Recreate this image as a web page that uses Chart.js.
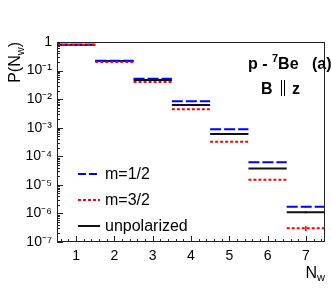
<!DOCTYPE html>
<html><head><meta charset="utf-8">
<script src="https://cdn.jsdelivr.net/npm/chart.js@4"></script>
<style>html,body{margin:0;padding:0;background:#fff;overflow:hidden}#wrap{width:332px;height:295px;position:relative}canvas{display:block}</style>
</head><body><div id="wrap"><canvas id="c" width="332" height="295" style="width:332px;height:295px"></canvas></div>
<script>
const categories = [1, 2, 3, 4, 5, 6, 7];
const m12 = [0.80, 0.22, 0.052, 0.0085, 8.8e-4, 6.2e-5, 1.7e-6];
const m32 = [0.79, 0.20, 0.040, 0.0044, 3.2e-4, 1.5e-5, 3.0e-7];
const unpol = [0.80, 0.215, 0.047, 0.0063, 6.0e-4, 3.7e-5, 1.1e-6];
const m12err = [0, 0, 0, 0, 0, 0, 0.12e-6];
const m32err = [0, 0, 0, 0, 0, 0, 0.6e-7];
const unpolerr = [0, 0, 0, 0, 0, 0, 0.1e-6];
const yTickValues = [1e-7, 1e-6, 1e-5, 1e-4, 1e-3, 1e-2, 1e-1, 1];
const yTickLabels = ['10⁻⁷', '10⁻⁶', '10⁻⁵', '10⁻⁴', '10⁻³', '10⁻²', '10⁻¹', '1'];
const xTickLabels = ['1', '2', '3', '4', '5', '6', '7'];
const legendLabels = ['m=1/2', 'm=3/2', 'unpolarized'];

const FONT = '"Liberation Sans", Arial, Helvetica, sans-serif';
const BLUE = '#0000ff', RED = '#ff0000', BLACK = '#111111';

function steps(vals) {
  const out = [];
  categories.forEach((c, i) => {
    out.push({x: c - 0.5, y: vals[i]});
    out.push({x: c + 0.5, y: vals[i]});
    out.push({x: c + 0.5, y: null});
  });
  return out;
}
function errs(vals, e) {
  const out = [];
  categories.forEach((c, i) => {
    if (e[i] > 0) {
      out.push({x: c, y: vals[i] - e[i]});
      out.push({x: c, y: vals[i] + e[i]});
      out.push({x: c, y: null});
    }
  });
  return out;
}
function lineDS(data, color, dash, width, order) {
  return {data, borderColor: color, borderWidth: width, borderDash: dash, pointRadius: 0,
    fill: false, spanGaps: false, tension: 0, order, borderCapStyle: 'butt'};
}

const decor = {
  id: 'decor',
  afterDatasetsDraw(chart) {
    const ctx = chart.ctx, a = chart.chartArea;
    const xs = chart.scales.x, ys = chart.scales.y;
    ctx.save();
    ctx.strokeStyle = '#222'; ctx.lineWidth = 1; ctx.setLineDash([]);
    ctx.strokeRect(Math.round(a.left) + 0.5, Math.round(a.top) + 0.5,
      Math.round(a.right - a.left) - 1, Math.round(a.bottom - a.top) - 1);
    ctx.beginPath();
    for (let e = -7; e <= 0; e++) {
      for (let k = 1; k <= 9; k++) {
        const v = k * Math.pow(10, e);
        if (v > 1.0001) break;
        const py = Math.round(ys.getPixelForValue(v)) + 0.5;
        const len = k === 1 ? 6 : 3;
        ctx.moveTo(a.left, py); ctx.lineTo(a.left + len, py);
      }
    }
    for (let t = 0.6; t < 7.5; t += 0.2) {
      const tv = Math.round(t * 10) / 10;
      const px = Math.round(xs.getPixelForValue(tv)) + 0.5;
      const major = Math.abs(tv - Math.round(tv)) < 1e-6;
      const len = major ? 6 : 3;
      ctx.moveTo(px, a.bottom); ctx.lineTo(px, a.bottom - len);
    }
    ctx.stroke();

    ctx.fillStyle = '#000';
    ctx.save();
    ctx.translate(20, a.top);
    ctx.rotate(-Math.PI / 2);
    ctx.textBaseline = 'alphabetic';
    ctx.font = '16px ' + FONT;
    const pW = ctx.measureText('P(N').width;
    ctx.font = '11px ' + FONT;
    const wW = ctx.measureText('w').width;
    ctx.font = '16px ' + FONT;
    const cW = ctx.measureText(')').width;
    const total = pW + wW + cW;
    ctx.textAlign = 'left';
    let x0 = -total;
    ctx.fillText('P(N', x0, 0);
    ctx.font = '11px ' + FONT;
    ctx.fillText('w', x0 + pW, 4);
    ctx.font = '16px ' + FONT;
    ctx.fillText(')', x0 + pW + wW, 0);
    ctx.restore();

    ctx.font = '16px ' + FONT;
    ctx.textAlign = 'left'; ctx.textBaseline = 'alphabetic';
    const nW = ctx.measureText('N').width;
    ctx.font = '11px ' + FONT;
    const w2 = ctx.measureText('w').width;
    let xt = a.right - nW - w2;
    ctx.font = '16px ' + FONT;
    ctx.fillText('N', xt, 278);
    ctx.font = '11px ' + FONT;
    ctx.fillText('w', xt + nW, 281);

    ctx.font = 'bold 16px ' + FONT;
    let ax = 248;
    ctx.fillText('p - ', ax, 69);
    ax += ctx.measureText('p - ').width;
    ctx.font = 'bold 11px ' + FONT;
    ctx.fillText('7', ax, 62);
    ax += ctx.measureText('7').width;
    ctx.font = 'bold 16px ' + FONT;
    ctx.fillText('Be   (a)', ax, 69);
    ctx.fillText('B', 261, 94);
    ctx.fillText('z', 292, 94);
    ctx.strokeStyle = '#000'; ctx.lineWidth = 1;
    ctx.beginPath();
    ctx.moveTo(281.5, 80); ctx.lineTo(281.5, 96);
    ctx.moveTo(284.5, 80); ctx.lineTo(284.5, 96);
    ctx.stroke();

    const items = [
      {c: BLUE, d: [8, 3], y: 174},
      {c: RED, d: [3, 2], y: 200},
      {c: BLACK, d: [], y: 226}
    ];
    items.forEach((it, i) => {
      ctx.strokeStyle = it.c; ctx.lineWidth = 2; ctx.setLineDash(it.d);
      ctx.beginPath(); ctx.moveTo(78, it.y); ctx.lineTo(100, it.y); ctx.stroke();
      ctx.setLineDash([]);
      ctx.fillStyle = '#000';
      ctx.font = '16px ' + FONT; ctx.textBaseline = 'middle';
      ctx.fillText(legendLabels[i], 105, it.y + 1);
    });
    ctx.restore();
  }
};

new Chart(document.getElementById('c'), {
  type: 'line',
  data: {
    datasets: [
      lineDS(steps(m32), RED, [3, 2], 2, 0),
      lineDS(steps(m12), BLUE, [11, 3], 2, 1),
      lineDS(steps(unpol), BLACK, [], 2, 2),
      lineDS(errs(m32, m32err), RED, [], 1.5, 0),
      lineDS(errs(m12, m12err), BLUE, [], 1, 1),
      lineDS(errs(unpol, unpolerr), BLACK, [], 1, 2)
    ]
  },
  options: {
    responsive: false,
    animation: false,
    devicePixelRatio: 1,
    layout: {padding: {top: 42, right: 7, left: 0, bottom: 0}},
    plugins: {legend: {display: false}, tooltip: {enabled: false}},
    scales: {
      x: {
        type: 'linear', min: 0.5, max: 7.5,
        afterBuildTicks(s) { s.ticks = categories.map(v => ({value: v})); },
        afterFit(s) { s.height = 53; },
        grid: {display: false, drawTicks: false},
        border: {display: false},
        ticks: {
          padding: 6, color: '#000', font: {family: FONT, size: 14},
          maxRotation: 0, autoSkip: false,
          callback(v, i) { return xTickLabels[i]; }
        }
      },
      y: {
        type: 'logarithmic', min: 1e-7, max: 1,
        afterBuildTicks(s) { s.ticks = yTickValues.map(v => ({value: v})); },
        afterFit(s) { s.width = 57; },
        grid: {display: false, drawTicks: false},
        border: {display: false},
        ticks: {
          padding: 5, color: '#000', font: {family: FONT, size: 14}, autoSkip: false,
          callback(v, i) { return yTickLabels[i]; }
        }
      }
    }
  },
  plugins: [decor]
});
</script>
</body></html>
